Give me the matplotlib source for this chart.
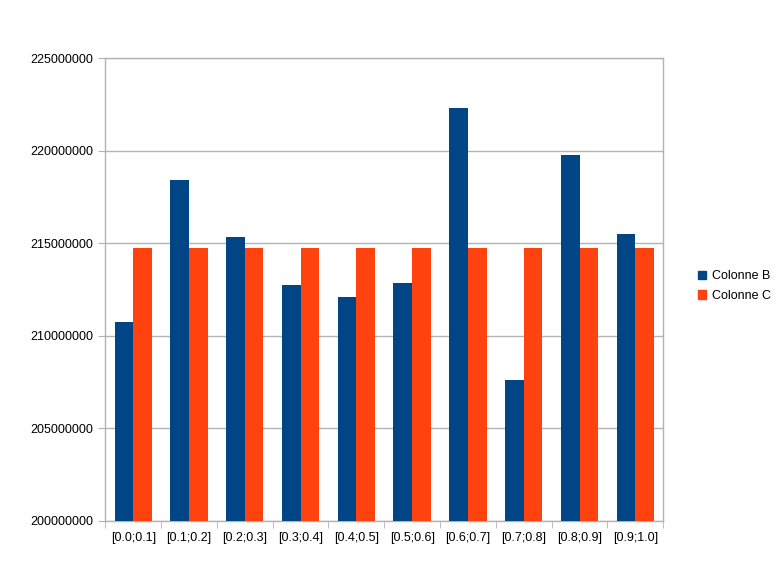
import numpy as np
import matplotlib.pyplot as plt
from matplotlib.patches import Patch

plt.rcParams["font.family"] = ["Liberation Sans", "DejaVu Sans"]

categories = ["[0.0;0.1]", "[0.1;0.2]", "[0.2;0.3]", "[0.3;0.4]", "[0.4;0.5]",
              "[0.5;0.6]", "[0.6;0.7]", "[0.7;0.8]", "[0.8;0.9]", "[0.9;1.0]"]
colonne_b = [210750000, 218450000, 215320000, 212760000, 212100000,
             212870000, 222340000, 207630000, 219780000, 215530000]
colonne_c = [214750000] * 10
y_ticks = [200000000, 205000000, 210000000, 215000000, 220000000, 225000000]

blue = "#004586"
orange = "#ff420e"
grid_col = "#b3b3b3"

fig = plt.figure(figsize=(7.83, 5.72), dpi=100)
ax = fig.add_axes([0.1345, 0.0892, 0.7125, 0.8088])

x = np.arange(len(categories))
w = 0.335
ax.bar(x - w / 2, colonne_b, width=w, color=blue, label="Colonne B", zorder=3)
ax.bar(x + w / 2, colonne_c, width=w, color=orange, label="Colonne C", zorder=3)

ax.set_xlim(-0.5, len(categories) - 0.5)
ax.set_ylim(y_ticks[0], y_ticks[-1])
ax.set_yticks(y_ticks)
ax.set_yticklabels([str(v) for v in y_ticks], fontsize=9)
ax.yaxis.grid(True, color=grid_col, linewidth=1, zorder=0)

# category labels centred, ticks between groups
ax.set_xticks(x)
ax.set_xticklabels(categories, fontsize=9)
ax.tick_params(axis="x", length=0, pad=8)
ax.set_xticks(np.arange(-0.5, len(categories)), minor=True)
ax.tick_params(axis="x", which="minor", length=5, color=grid_col, direction="out")
ax.tick_params(axis="y", length=5, color=grid_col, direction="out", pad=4)

for s in ax.spines.values():
    s.set_color(grid_col)
    s.set_linewidth(1)

handles = [Patch(color=blue, label="Colonne B"), Patch(color=orange, label="Colonne C")]
fig.legend(handles=handles, loc="center left", bbox_to_anchor=(0.883, 0.5),
           frameon=False, fontsize=9, handlelength=0.65, handleheight=0.65,
           handletextpad=0.5, labelspacing=0.6, borderpad=0)

fig.savefig("out.png", dpi=100)
